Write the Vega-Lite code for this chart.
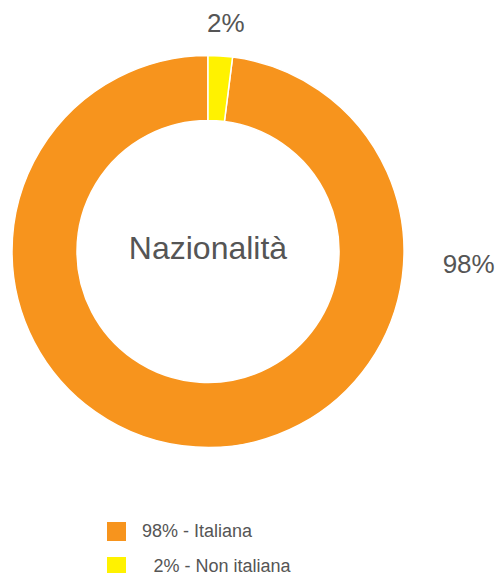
{
  "$schema": "https://vega.github.io/schema/vega-lite/v6.json",
  "width": 416,
  "height": 503,
  "autosize": {"type": "none"},
  "padding": {"left": 0, "top": 0, "right": 82, "bottom": 70},
  "background": "white",
  "config": {"view": {"stroke": null}, "font": "Liberation Sans"},
  "datasets": {
    "nat": [
      {"category": "Italiana", "label": "98% - Italiana", "pct": "98%", "value": 98},
      {"category": "Non italiana", "label": "\u200b\u00a0\u00a0\u200a2% - Non italiana", "pct": "2%", "value": 2}
    ]
  },
  "layer": [
    {
      "data": {"name": "nat"},
      "mark": {"type": "arc", "radius": 196, "radius2": 131, "stroke": "white", "strokeWidth": 1.5},
      "encoding": {
        "theta": {"field": "value", "type": "quantitative", "stack": true},
        "color": {
          "field": "label",
          "type": "nominal",
          "scale": {"domain": ["98% - Italiana", "\u200b\u00a0\u00a0\u200a2% - Non italiana"], "range": ["#F7941D", "#FFF200"]},
          "legend": {
            "title": null,
            "orient": "none",
            "legendX": 107,
            "legendY": 522,
            "symbolType": "square",
            "symbolSize": 361,
            "symbolStrokeWidth": 0,
            "symbolOpacity": 1,
            "labelFontSize": 18,
            "labelColor": "#555555",
            "labelFont": "Liberation Sans",
            "labelOffset": 16,
            "labelLimit": 300,
            "rowPadding": 16,
            "padding": 0
          }
        },
        "order": {"field": "category", "sort": "descending"}
      }
    },
    {
      "data": {"name": "nat"},
      "transform": [{"filter": "datum.category === 'Non italiana'"}],
      "mark": {"type": "text", "theta": 0.0786, "radius": 228, "fontSize": 26, "color": "#555555"},
      "encoding": {"text": {"field": "pct", "type": "nominal"}}
    },
    {
      "data": {"name": "nat"},
      "transform": [{"filter": "datum.category === 'Italiana'"}],
      "mark": {"type": "text", "theta": 1.6226, "radius": 261, "fontSize": 26, "color": "#555555"},
      "encoding": {"text": {"field": "pct", "type": "nominal"}}
    },
    {
      "data": {"values": [{"t": "Nazionalità"}]},
      "mark": {"type": "text", "fontSize": 32, "color": "#555555", "dy": -3},
      "encoding": {"text": {"field": "t", "type": "nominal"}}
    }
  ]
}
